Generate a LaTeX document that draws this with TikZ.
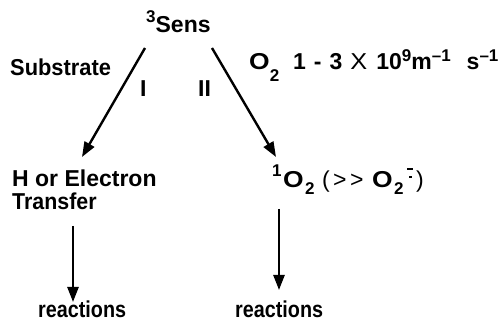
\documentclass[tikz,border=0pt]{standalone}
\usepackage{fontspec}
\setmainfont{Liberation Sans}
\usetikzlibrary{arrows.meta}
\newcommand\upbox[2]{\raisebox{#1}{\fontsize{17}{17}\selectfont #2}}
\newcommand\bx[2]{\makebox[#1pt][l]{#2}}
\newcommand\wideO{\scalebox{1.15}[1]{O}}
\newcommand\radsym{\makebox[6pt][l]{\raisebox{18pt}{\rule{6pt}{1.8pt}}}\kern-6pt\makebox[6pt][l]{\kern2pt\raisebox{10pt}{\rule{2.4pt}{2.4pt}}}}
\begin{document}
\begin{tikzpicture}[x=1pt,y=-1pt,
  txt/.style={anchor=base west,inner sep=0pt,font=\fontsize{23}{25}\selectfont\bfseries},
  arr/.style={line width=2.4pt,-{Triangle[length=15pt,width=11pt]}}]
\useasboundingbox (0,0) rectangle (504,323);
\node[txt] (sens) at (146,33) {\upbox{10pt}{3}Sens};
\node[txt] (sub) at (10,76) {\scalebox{0.95}[1]{Substrate}};
\node[txt] (rate) at (249,70) {\wideO\upbox{-12pt}{2}\hspace{14pt}1\hspace{8pt}-\hspace{8pt}3\hspace{8pt}{\mdseries\scalebox{1.1}[1]{X}}\hspace{9pt}10\upbox{8pt}{9}m\upbox{8pt}{\textendash1}\hspace{16pt}s\upbox{8pt}{\textendash1}};
\node[txt] (one) at (140,97) {I};
\node[txt] (two) at (198,97) {II};
\node[txt] (hor) at (12,187) {H or Electron};
\node[txt] (trans) at (12,210) {\scalebox{0.93}[1]{Transfer}};
\node[txt] (so) at (272,188) {\bx{11}{\upbox{11pt}{1}}\bx{22}{\wideO}\bx{17}{\upbox{-7pt}{2}}{\mdseries\bx{11}{(}\bx{17}{>}\bx{22}{>}}\bx{22}{\wideO}\bx{13}{\upbox{-7pt}{2}}\bx{9}{\radsym}{\mdseries)}};
\node[txt] (r1) at (38,318) {\scalebox{0.86}[1]{reactions}};
\node[txt] (r2) at (235,318) {\scalebox{0.86}[1]{reactions}};
\coordinate (a1s) at (145,48);
\coordinate (a1e) at (82,157);
\coordinate (a2s) at (212,48);
\coordinate (a2e) at (276,157);
\coordinate (a3s) at (73,226);
\coordinate (a3e) at (73,302);
\coordinate (a4s) at (279,209);
\coordinate (a4e) at (279,290);
\draw[arr] (a1s) -- (a1e);
\draw[arr] (a2s) -- (a2e);
\draw[arr] (a3s) -- (a3e);
\draw[arr] (a4s) -- (a4e);
\end{tikzpicture}
\end{document}
